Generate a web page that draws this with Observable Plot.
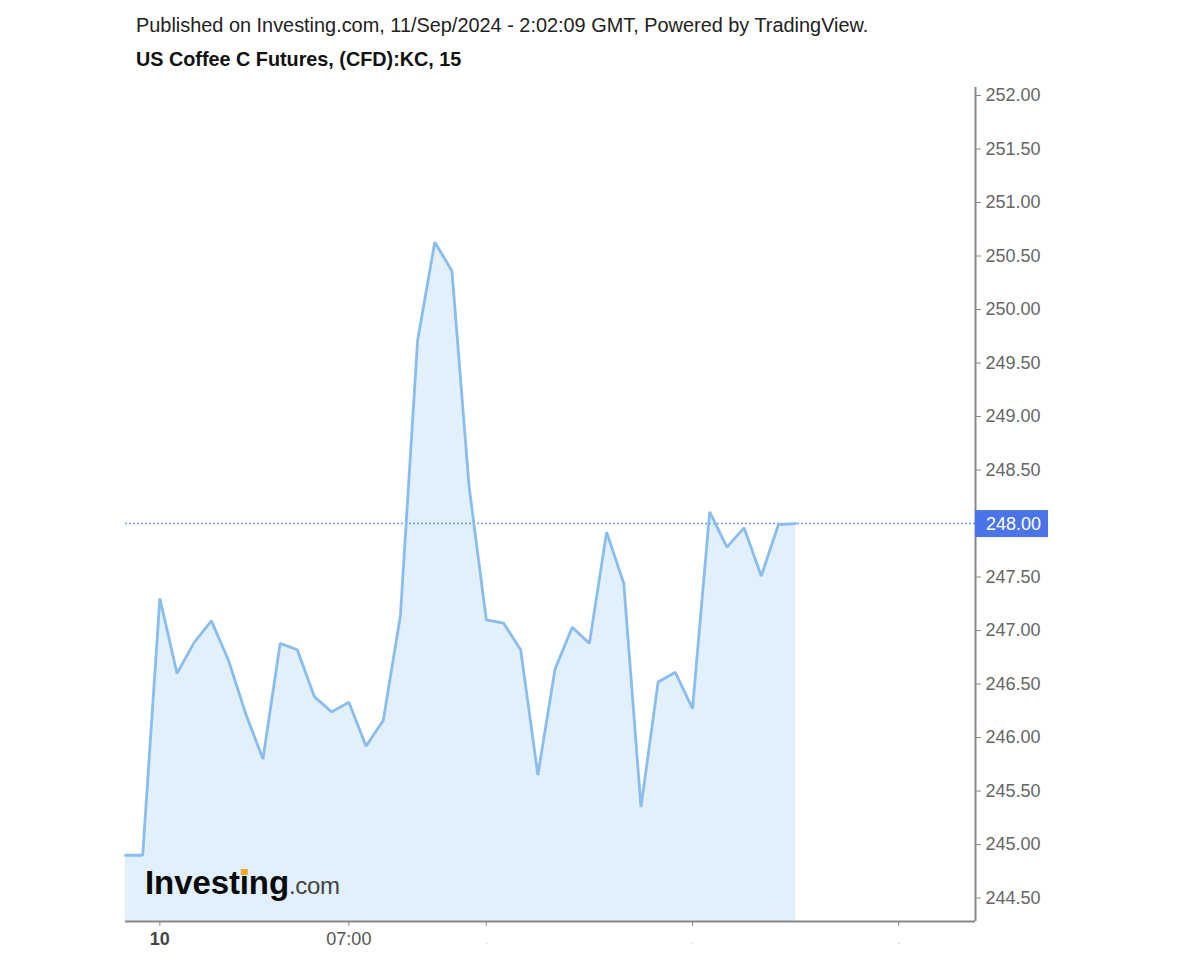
<!DOCTYPE html>
<html><head><meta charset="utf-8">
<script src="https://cdn.jsdelivr.net/npm/d3@7"></script>
<script src="https://cdn.jsdelivr.net/npm/@observablehq/plot@0.6"></script>
<style>
body{margin:0;background:#fff;font-family:"Liberation Sans",Arial,sans-serif;}
#head{height:75px;position:relative;}
#pub{position:absolute;left:136px;top:14px;font-size:19.9px;color:#222;white-space:nowrap;}
#ttl{position:absolute;left:136px;top:48px;font-size:19.8px;font-weight:bold;color:#111;white-space:nowrap;}
#chart svg{display:block;}
</style></head><body>
<div id="head">
  <div id="pub">Published on Investing.com, 11/Sep/2024 - 2:02:09 GMT, Powered by TradingView.</div>
  <div id="ttl">US Coffee C Futures, (CFD):KC, 15</div>
</div>
<div id="chart"></div>
<script>
// 15-minute closes (bar index order)
const prices = [244.90,244.90,247.30,246.60,246.89,247.09,246.72,246.22,245.80,246.88,
  246.82,246.38,246.24,246.33,245.92,246.16,247.14,249.71,250.63,250.36,
  248.34,247.10,247.07,246.82,245.65,246.64,247.03,246.88,247.92,247.44,
  245.35,246.52,246.61,246.27,248.11,247.78,247.96,247.51,247.99,248.00];
const yTicks = [244.5,245,245.5,246,246.5,247,247.5,248,248.5,249,249.5,250,250.5,251,251.5,252];
const xTickIndex = [2, 13];
const xTickLabels = ["10", "07:00"];
const xMinorTickIndex = [21, 33, 45];
const xDomain = [0, 49.47];
const yDomain = [244.281, 252.075];
const lastPrice = prices[prices.length - 1];

const data = prices.map((p, i) => ({i, p}));

const plot = Plot.plot({
  width: 1200,
  height: 885,
  marginTop: 12,
  marginBottom: 39,
  marginLeft: 125,
  marginRight: 225,
  style: {fontFamily: "Liberation Sans, Arial, sans-serif", background: "#fff"},
  x: {type: "linear", domain: xDomain, axis: null},
  y: {domain: yDomain, axis: null},
  marks: [
    Plot.areaY(data, {x: "i", y1: yDomain[0], y2: "p", fill: "#e1f0fa"}),
    Plot.ruleY([lastPrice], {stroke: "#7397f6", strokeWidth: 1.6, strokeDasharray: "2,2"}),
    Plot.lineY(data, {x: "i", y: "p", stroke: "#88bdee", strokeWidth: 2.8, strokeLinejoin: "miter"}),
    Plot.ruleX([xDomain[1]], {stroke: "#888", strokeWidth: 2}),
    Plot.ruleY([yDomain[0]], {stroke: "#888", strokeWidth: 2}),
    Plot.axisY({anchor: "right", label: null, ticks: yTicks, tickFormat: d => d.toFixed(2), tickSize: 5, tickPadding: 5,
      stroke: "#888", fill: "#666", fontSize: 18}),
    Plot.axisX({anchor: "bottom", label: null, ticks: xTickIndex, tickFormat: (d, k) => xTickLabels[k], tickSize: 5, tickPadding: 6,
      stroke: "#888", fill: "#555", fontSize: 18}),
    Plot.axisX({anchor: "bottom", label: null, ticks: xMinorTickIndex, tickFormat: () => ".", tickSize: 5, tickPadding: 9,
      stroke: "#888", fill: "#ccc", fontSize: 12})
  ]
});
document.getElementById("chart").appendChild(plot);

// bold day label
const svg = d3.select(plot);
svg.selectAll("g[aria-label='x-axis tick label'] text").filter(function(){return this.textContent === "10";})
  .attr("font-weight", "bold").attr("fill", "#444");

// last price label box
const ys = plot.scale("y"), xs = plot.scale("x");
const yy = ys.apply(lastPrice), xx = xs.apply(xDomain[1]);
const lab = svg.append("g").attr("text-anchor", "start");
lab.append("rect").attr("x", xx).attr("y", yy - 13).attr("width", 73).attr("height", 27).attr("fill", "#4a74e8");
lab.append("text").attr("x", xx + 11).attr("y", yy + 7).attr("fill", "#fff").attr("font-size", 18)
  .attr("font-family", "Liberation Sans, Arial, sans-serif").text(lastPrice.toFixed(2));

// Investing.com watermark
const wg = svg.append("g").attr("text-anchor", "start");
const wm = wg.append("text").attr("x", 145).attr("y", 894 - 75)
  .attr("font-family", "Liberation Sans, Arial, sans-serif");
wm.append("tspan").attr("font-size", 33).attr("font-weight", "bold").attr("fill", "#0a0a0a").attr("letter-spacing", -0.1).text("Invest\u0131ng");
wm.append("tspan").attr("font-size", 24).attr("fill", "#444").attr("letter-spacing", -0.3).text(".com");
const node = wm.node();
const pre = node.getSubStringLength(0, 6);
const iw = node.getSubStringLength(6, 1);
wg.append("rect").attr("x", 145 + pre + iw/2 - 3.5).attr("y", 894 - 75 - 25).attr("width", 7).attr("height", 6)
  .attr("fill", "#f5a623");
</script>
</body></html>
